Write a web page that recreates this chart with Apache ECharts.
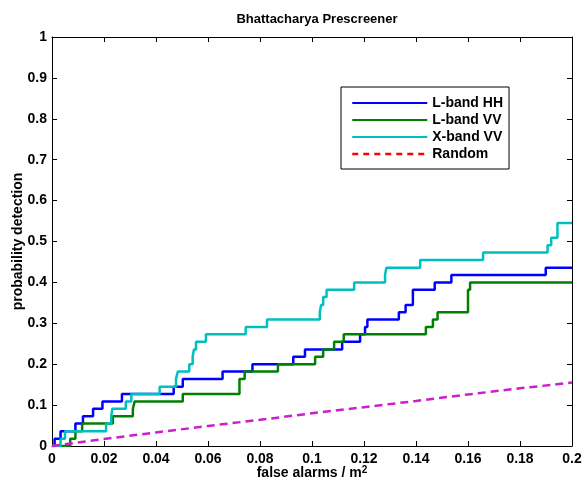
<!DOCTYPE html>
<html>
<head>
<meta charset="utf-8">
<script src="https://cdn.jsdelivr.net/npm/echarts@6/dist/echarts.min.js"></script>
<style>
  html, body { margin: 0; padding: 0; background: #fff; }
  #chart { width: 585px; height: 485px; }
</style>
</head>
<body>
<div id="chart"></div>
<script>
// Probability of detection vs. false alarm rate for each sensor band.
var xTicks = [0, 0.02, 0.04, 0.06, 0.08, 0.1, 0.12, 0.14, 0.16, 0.18, 0.2];
var yTicks = [0, 0.1, 0.2, 0.3, 0.4, 0.5, 0.6, 0.7, 0.8, 0.9, 1];

var seriesNames = ['L-band HH', 'L-band VV', 'X-band VV', 'Random'];

// L-band HH: false alarms/m^2 where detection steps, and resulting Pd
var lhhFa = [0, 0.0010, 0.0033, 0.0090, 0.0119, 0.0158, 0.0194, 0.0269, 0.0468, 0.0503,
             0.0656, 0.0771, 0.0928, 0.0973, 0.1116, 0.1185, 0.1204, 0.1213, 0.1334, 0.1360,
             0.1388, 0.1472, 0.1536, 0.1899, 0.2];
var lhhPd = [0, 0.018, 0.036, 0.055, 0.073, 0.091, 0.109, 0.127, 0.145, 0.164,
             0.182, 0.200, 0.218, 0.236, 0.255, 0.273, 0.291, 0.309, 0.327, 0.345,
             0.382, 0.400, 0.418, 0.436, 0.436];

// L-band VV
var lvvFa = [0, 0.0070, 0.0090, 0.0116, 0.0234, 0.0311, 0.0318, 0.0503, 0.0721, 0.0741,
             0.0869, 0.1012, 0.1043, 0.1085, 0.1122, 0.1438, 0.1465, 0.1483, 0.1600, 0.1608, 0.2];
var lvvPd = [0, 0.018, 0.036, 0.055, 0.073, 0.091, 0.109, 0.127, 0.164, 0.182,
             0.200, 0.218, 0.236, 0.255, 0.273, 0.291, 0.309, 0.327, 0.382, 0.400, 0.400];

// X-band VV
var xvvFa = [0, 0.0033, 0.0050, 0.0208, 0.0228, 0.0232, 0.0284, 0.0305, 0.0414, 0.0477,
             0.0484, 0.0528, 0.0541, 0.0546, 0.0554, 0.0592, 0.0745, 0.0827, 0.1030, 0.1035,
             0.1043, 0.1056, 0.1162, 0.1281, 0.1286, 0.1416, 0.1658, 0.1906, 0.1920, 0.1944, 0.2];
var xvvPd = [0, 0.018, 0.036, 0.055, 0.073, 0.091, 0.109, 0.127, 0.145, 0.164,
             0.182, 0.200, 0.218, 0.236, 0.255, 0.273, 0.291, 0.309, 0.327, 0.345,
             0.364, 0.382, 0.400, 0.418, 0.436, 0.455, 0.473, 0.491, 0.509, 0.545, 0.545];

// Random-guess reference curve
var randFa = [0, 0.02, 0.04, 0.06, 0.08, 0.1, 0.12, 0.14, 0.16, 0.18, 0.2];
var randPd = [0, 0.017, 0.033, 0.049, 0.064, 0.080, 0.095, 0.110, 0.126, 0.141, 0.155];

function pairs(xs, ys) {
  return xs.map(function (x, i) { return [x, ys[i]]; });
}

var FONT = '"Liberation Sans", Arial, Helvetica, sans-serif';
var labelStyle = { fontFamily: FONT, fontWeight: 'bold', fontSize: 14, color: '#000' };
var lineW = 2.5;

function fmt(v) { return String(+v.toFixed(2)); }

var chart = echarts.init(document.getElementById('chart'), null, { renderer: 'canvas' });

var axisBase = {
  axisLine: { show: true, onZero: false, lineStyle: { color: '#000', width: 1 } },
  axisTick: { show: true, inside: true, length: 5, lineStyle: { color: '#000', width: 1 } },
  splitLine: { show: false }
};

// legend entries draw only the line sample (no marker)
var noMarker = { opacity: 0 };

chart.setOption({
  animation: false,
  backgroundColor: '#fff',
  title: {
    text: 'Bhattacharya Prescreener',
    left: 312, top: 8, textAlign: 'center',
    textStyle: { fontFamily: FONT, fontWeight: 'bold', fontSize: 13, color: '#000' }
  },
  grid: { left: 52, right: 13, top: 37, bottom: 39, containLabel: false, outerBoundsMode: 'none' },
  legend: {
    orient: 'vertical',
    left: 341, top: 87,
    padding: [9, 6, 8, 10],
    itemWidth: 75, itemHeight: 14, itemGap: 3,
    borderColor: '#000', borderWidth: 1, borderRadius: 0,
    backgroundColor: '#fff',
    itemStyle: noMarker,
    textStyle: { fontFamily: FONT, fontWeight: 'bold', fontSize: 14, color: '#000', lineHeight: 14 },
    data: [
      { name: seriesNames[0] },
      { name: seriesNames[1] },
      { name: seriesNames[2] },
      { name: seriesNames[3], itemStyle: { color: '#ff0000', opacity: 0 },
        lineStyle: { color: '#ff0000', type: [6, 5], width: lineW } }
    ]
  },
  xAxis: [
    Object.assign({}, axisBase, {
      type: 'value', position: 'bottom',
      min: xTicks[0], max: xTicks[xTicks.length - 1], interval: 0.02,
      name: 'false alarms / m{sup|2}',
      nameLocation: 'middle', nameGap: 19, nameMoveOverlap: false,
      nameTextStyle: {
        fontFamily: FONT, fontWeight: 'bold', fontSize: 14, color: '#000',
        rich: { sup: { fontFamily: FONT, fontWeight: 'bold', fontSize: 10, verticalAlign: 'top', padding: [0, 0, 6, 0] } }
      },
      axisLabel: Object.assign({ margin: 6, formatter: fmt }, labelStyle)
    }),
    Object.assign({}, axisBase, {
      type: 'value', position: 'top',
      min: xTicks[0], max: xTicks[xTicks.length - 1], interval: 0.02,
      axisLabel: { show: false }
    })
  ],
  yAxis: [
    Object.assign({}, axisBase, {
      type: 'value', position: 'left',
      min: yTicks[0], max: yTicks[yTicks.length - 1], interval: 0.1,
      name: 'probability detection',
      nameLocation: 'middle', nameGap: 27, nameRotate: 90, nameMoveOverlap: false,
      nameTextStyle: { fontFamily: FONT, fontWeight: 'bold', fontSize: 14, color: '#000' },
      axisLabel: Object.assign({ margin: 5, formatter: fmt }, labelStyle)
    }),
    Object.assign({}, axisBase, {
      type: 'value', position: 'right',
      min: yTicks[0], max: yTicks[yTicks.length - 1], interval: 0.1,
      axisLabel: { show: false }
    })
  ],
  series: [
    {
      name: seriesNames[0], type: 'line', step: 'end', symbol: 'none',
      data: pairs(lhhFa, lhhPd),
      itemStyle: { color: '#0000ff' },
      lineStyle: { color: '#0000ff', width: lineW }
    },
    {
      name: seriesNames[1], type: 'line', step: 'end', symbol: 'none',
      data: pairs(lvvFa, lvvPd),
      itemStyle: { color: '#008000' },
      lineStyle: { color: '#008000', width: lineW }
    },
    {
      name: seriesNames[2], type: 'line', step: 'end', symbol: 'none',
      data: pairs(xvvFa, xvvPd),
      itemStyle: { color: '#00bfbf' },
      lineStyle: { color: '#00bfbf', width: lineW }
    },
    {
      name: seriesNames[3], type: 'line', symbol: 'none',
      data: pairs(randFa, randPd),
      itemStyle: { color: '#cc1fcc' },
      lineStyle: { color: '#cc1fcc', width: lineW, type: [8, 5] }
    }
  ]
});
</script>
</body>
</html>
